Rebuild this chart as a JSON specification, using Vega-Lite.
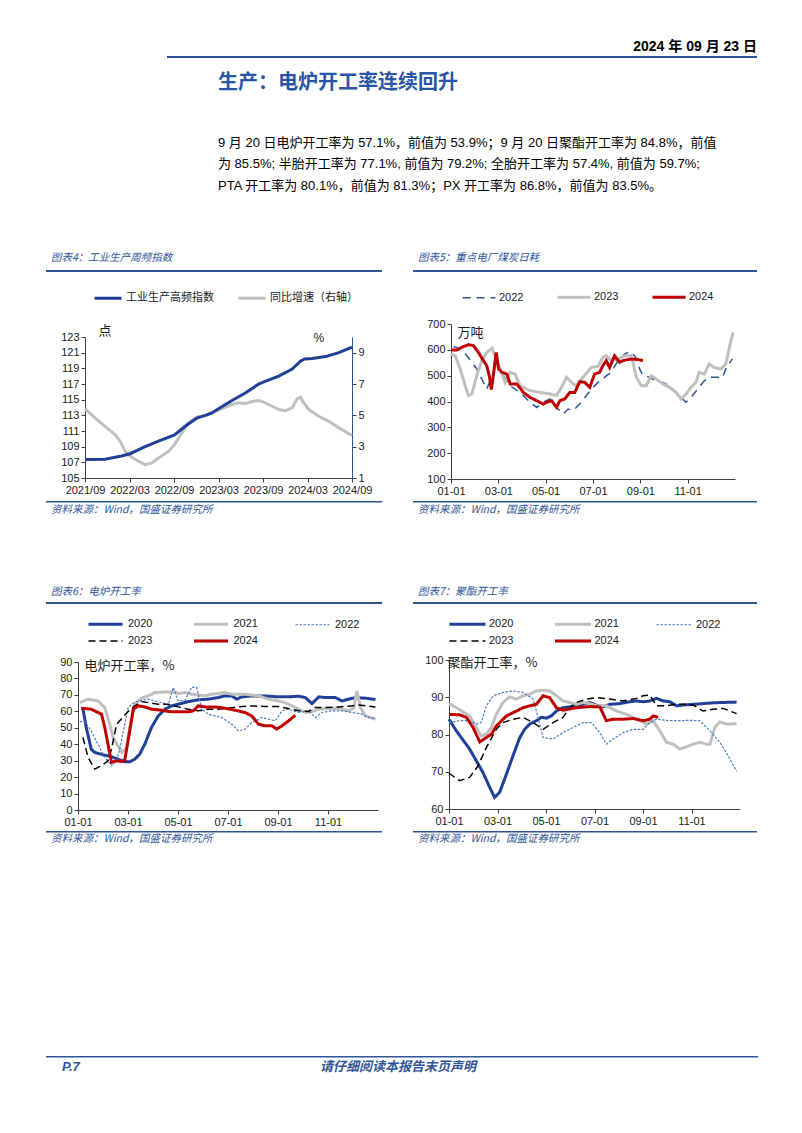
{
"$schema": "https://vega.github.io/schema/vega-lite/v6.json",
"padding": {"left": 46, "top": 40, "right": 0, "bottom": 0},
"background": "white",
"spacing": 0,
"resolve": {"scale": {"color": "independent", "strokeDash": "independent"}, "legend": {"color": "independent", "strokeDash": "independent"}},
"config": {
 "view": {"stroke": null},
 "font": "Liberation Sans",
 "axis": {"labelFont": "Liberation Sans", "labelFontSize": 11, "labelColor": "#1a1a1a", "domainColor": "#404040", "tickColor": "#404040", "grid": false, "tickSize": 4, "labelPadding": 2, "titleFont": "Noto Sans CJK SC", "titleFontWeight": "normal", "titleColor": "#1a1a1a", "titleFontSize": 13, "labelFlush": false, "labelOverlap": false},
 "legend": {"labelFont": "Liberation Sans", "labelFontSize": 11, "labelColor": "#1a1a1a"},
 "line": {"strokeCap": "butt"}
},
"datasets": {
 "c4i": [
  {"m":0,"v":107.35},{"m":2.7,"v":107.4},{"m":4.95,"v":107.8},{"m":6.08,"v":108.1},{"m":8.11,"v":109.0},{"m":9.91,"v":109.7},{"m":12.07,"v":110.5},{"m":13.51,"v":111.6},{"m":15.09,"v":112.65},{"m":16.22,"v":113.0},{"m":17.12,"v":113.3},{"m":18.11,"v":113.9},{"m":19.82,"v":114.9},{"m":21.62,"v":115.85},{"m":23.42,"v":117.0},{"m":24.19,"v":117.3},{"m":26.13,"v":118.0},{"m":27.93,"v":118.9},{"m":29.05,"v":119.9},{"m":29.6,"v":120.2},{"m":30.63,"v":120.25},{"m":32.43,"v":120.5},{"m":34.23,"v":121.0},{"m":36,"v":121.7}
 ],
 "c4g": [
  {"m":0,"v":5.43},{"m":1.35,"v":4.84},{"m":2.7,"v":4.3},{"m":4.05,"v":3.77},{"m":4.73,"v":3.35},{"m":5.41,"v":2.7},{"m":6.08,"v":2.39},{"m":7.21,"v":2.07},{"m":8.11,"v":1.85},{"m":9.01,"v":1.96},{"m":9.91,"v":2.28},{"m":11.26,"v":2.7},{"m":12.07,"v":3.13},{"m":13.06,"v":3.88},{"m":13.96,"v":4.52},{"m":15.09,"v":4.9},{"m":16.22,"v":4.99},{"m":17.12,"v":5.16},{"m":18.11,"v":5.37},{"m":19.82,"v":5.69},{"m":20.72,"v":5.8},{"m":21.62,"v":5.75},{"m":22.52,"v":5.88},{"m":23.42,"v":5.95},{"m":24.32,"v":5.8},{"m":25.23,"v":5.58},{"m":26.13,"v":5.37},{"m":27.03,"v":5.3},{"m":27.93,"v":5.48},{"m":28.6,"v":6.05},{"m":29.05,"v":6.16},{"m":29.5,"v":5.8},{"m":30.18,"v":5.37},{"m":31.53,"v":4.94},{"m":32.88,"v":4.62},{"m":34.23,"v":4.2},{"m":36,"v":3.71}
 ],
 "c5": [
  {"s":"2022","m":0.11,"v":612},{"s":"2022","m":0.39,"v":605},{"s":"2022","m":0.67,"v":577},{"s":"2022","m":1.09,"v":526},{"s":"2022","m":1.30,"v":487},{"s":"2022","m":1.51,"v":448},{"s":"2022","m":1.80,"v":513},{"s":"2022","m":1.91,"v":550},{"s":"2022","m":2.22,"v":500},{"s":"2022","m":2.50,"v":461},{"s":"2022","m":2.92,"v":435},{"s":"2022","m":3.34,"v":397},{"s":"2022","m":3.62,"v":377},{"s":"2022","m":3.90,"v":397},{"s":"2022","m":4.18,"v":410},{"s":"2022","m":4.46,"v":377},{"s":"2022","m":4.74,"v":352},{"s":"2022","m":4.95,"v":371},{"s":"2022","m":5.16,"v":365},{"s":"2022","m":5.44,"v":390},{"s":"2022","m":5.72,"v":423},{"s":"2022","m":5.93,"v":448},{"s":"2022","m":6.21,"v":474},{"s":"2022","m":6.49,"v":494},{"s":"2022","m":6.77,"v":513},{"s":"2022","m":7.05,"v":558},{"s":"2022","m":7.34,"v":584},{"s":"2022","m":7.55,"v":593},{"s":"2022","m":7.76,"v":577},{"s":"2022","m":7.97,"v":526},{"s":"2022","m":8.11,"v":500},{"s":"2022","m":8.39,"v":494},{"s":"2022","m":8.67,"v":480},{"s":"2022","m":8.95,"v":474},{"s":"2022","m":9.23,"v":461},{"s":"2022","m":9.51,"v":435},{"s":"2022","m":9.79,"v":410},{"s":"2022","m":9.93,"v":397},{"s":"2022","m":10.14,"v":416},{"s":"2022","m":10.42,"v":448},{"s":"2022","m":10.70,"v":480},{"s":"2022","m":10.91,"v":494},{"s":"2022","m":11.19,"v":494},{"s":"2022","m":11.47,"v":491},{"s":"2022","m":11.61,"v":526},{"s":"2022","m":11.89,"v":565},
  {"s":"2023","m":0,"v":584},{"s":"2023","m":0.18,"v":577},{"s":"2023","m":0.39,"v":526},{"s":"2023","m":0.60,"v":461},{"s":"2023","m":0.74,"v":423},{"s":"2023","m":0.88,"v":429},{"s":"2023","m":1.09,"v":500},{"s":"2023","m":1.30,"v":558},{"s":"2023","m":1.51,"v":590},{"s":"2023","m":1.73,"v":606},{"s":"2023","m":1.91,"v":565},{"s":"2023","m":2.08,"v":526},{"s":"2023","m":2.29,"v":474},{"s":"2023","m":2.50,"v":513},{"s":"2023","m":2.71,"v":506},{"s":"2023","m":2.92,"v":461},{"s":"2023","m":3.34,"v":442},{"s":"2023","m":3.76,"v":435},{"s":"2023","m":4.18,"v":429},{"s":"2023","m":4.46,"v":423},{"s":"2023","m":4.67,"v":455},{"s":"2023","m":4.88,"v":494},{"s":"2023","m":5.09,"v":474},{"s":"2023","m":5.30,"v":461},{"s":"2023","m":5.58,"v":494},{"s":"2023","m":5.93,"v":532},{"s":"2023","m":6.21,"v":536},{"s":"2023","m":6.42,"v":571},{"s":"2023","m":6.56,"v":577},{"s":"2023","m":6.77,"v":558},{"s":"2023","m":7.05,"v":564},{"s":"2023","m":7.34,"v":577},{"s":"2023","m":7.62,"v":577},{"s":"2023","m":7.83,"v":494},{"s":"2023","m":8.04,"v":461},{"s":"2023","m":8.25,"v":461},{"s":"2023","m":8.46,"v":500},{"s":"2023","m":8.67,"v":487},{"s":"2023","m":8.95,"v":468},{"s":"2023","m":9.23,"v":455},{"s":"2023","m":9.51,"v":435},{"s":"2023","m":9.72,"v":410},{"s":"2023","m":9.93,"v":429},{"s":"2023","m":10.14,"v":455},{"s":"2023","m":10.35,"v":474},{"s":"2023","m":10.49,"v":513},{"s":"2023","m":10.70,"v":506},{"s":"2023","m":10.91,"v":545},{"s":"2023","m":11.12,"v":532},{"s":"2023","m":11.40,"v":526},{"s":"2023","m":11.61,"v":545},{"s":"2023","m":11.78,"v":616},{"s":"2023","m":11.92,"v":668},
  {"s":"2024","m":0,"v":599},{"s":"2024","m":0.25,"v":599},{"s":"2024","m":0.46,"v":610},{"s":"2024","m":0.74,"v":620},{"s":"2024","m":0.95,"v":616},{"s":"2024","m":1.16,"v":590},{"s":"2024","m":1.37,"v":558},{"s":"2024","m":1.51,"v":539},{"s":"2024","m":1.63,"v":494},{"s":"2024","m":1.70,"v":446},{"s":"2024","m":1.77,"v":487},{"s":"2024","m":1.91,"v":590},{"s":"2024","m":2.01,"v":526},{"s":"2024","m":2.15,"v":513},{"s":"2024","m":2.36,"v":506},{"s":"2024","m":2.50,"v":468},{"s":"2024","m":2.78,"v":468},{"s":"2024","m":3.06,"v":435},{"s":"2024","m":3.34,"v":416},{"s":"2024","m":3.62,"v":403},{"s":"2024","m":3.90,"v":390},{"s":"2024","m":4.04,"v":397},{"s":"2024","m":4.25,"v":403},{"s":"2024","m":4.46,"v":377},{"s":"2024","m":4.60,"v":403},{"s":"2024","m":4.81,"v":410},{"s":"2024","m":5.02,"v":435},{"s":"2024","m":5.23,"v":435},{"s":"2024","m":5.44,"v":477},{"s":"2024","m":5.65,"v":474},{"s":"2024","m":5.86,"v":455},{"s":"2024","m":6.07,"v":506},{"s":"2024","m":6.28,"v":513},{"s":"2024","m":6.42,"v":539},{"s":"2024","m":6.56,"v":558},{"s":"2024","m":6.70,"v":532},{"s":"2024","m":6.91,"v":577},{"s":"2024","m":7.12,"v":552},{"s":"2024","m":7.27,"v":558},{"s":"2024","m":7.55,"v":564},{"s":"2024","m":7.83,"v":564},{"s":"2024","m":8.11,"v":558}
 ],
 "c6": [
  {"s":"2020","m":0.20,"v":61.3},{"s":"2020","m":0.33,"v":50.2},{"s":"2020","m":0.53,"v":37.0},{"s":"2020","m":0.67,"v":35},{"s":"2020","m":1.00,"v":33.6},{"s":"2020","m":1.34,"v":32.4},{"s":"2020","m":1.60,"v":30.9},{"s":"2020","m":1.87,"v":29.3},{"s":"2020","m":2.07,"v":29.3},{"s":"2020","m":2.27,"v":30.9},{"s":"2020","m":2.47,"v":34.0},{"s":"2020","m":2.67,"v":40},{"s":"2020","m":2.94,"v":50.2},{"s":"2020","m":3.21,"v":57.2},{"s":"2020","m":3.48,"v":61.3},{"s":"2020","m":3.74,"v":63.3},{"s":"2020","m":4.01,"v":64.3},{"s":"2020","m":4.41,"v":65.9},{"s":"2020","m":4.81,"v":67.0},{"s":"2020","m":5.21,"v":67.4},{"s":"2020","m":5.61,"v":68.4},{"s":"2020","m":5.88,"v":69.4},{"s":"2020","m":6.15,"v":69.4},{"s":"2020","m":6.35,"v":67.4},{"s":"2020","m":6.55,"v":68.8},{"s":"2020","m":6.95,"v":69.4},{"s":"2020","m":7.49,"v":69.4},{"s":"2020","m":8.02,"v":68.8},{"s":"2020","m":8.42,"v":68.8},{"s":"2020","m":8.82,"v":69.2},{"s":"2020","m":9.09,"v":68.4},{"s":"2020","m":9.36,"v":64.7},{"s":"2020","m":9.63,"v":68.8},{"s":"2020","m":9.89,"v":68.4},{"s":"2020","m":10.29,"v":68.4},{"s":"2020","m":10.56,"v":66.3},{"s":"2020","m":10.83,"v":67.4},{"s":"2020","m":11.10,"v":68.4},{"s":"2020","m":11.50,"v":68.0},{"s":"2020","m":11.90,"v":67.2},
  {"s":"2021","m":0.07,"v":65.3},{"s":"2021","m":0.40,"v":67.4},{"s":"2021","m":0.80,"v":66.3},{"s":"2021","m":1.07,"v":62.3},{"s":"2021","m":1.27,"v":52.2},{"s":"2021","m":1.40,"v":44.1},{"s":"2021","m":1.60,"v":39},{"s":"2021","m":1.76,"v":35},{"s":"2021","m":1.94,"v":38},{"s":"2021","m":2.07,"v":50.2},{"s":"2021","m":2.27,"v":64.3},{"s":"2021","m":2.54,"v":68},{"s":"2021","m":2.81,"v":69.4},{"s":"2021","m":3.07,"v":71.4},{"s":"2021","m":3.48,"v":71.8},{"s":"2021","m":3.88,"v":71.8},{"s":"2021","m":4.01,"v":70.8},{"s":"2021","m":4.28,"v":71.4},{"s":"2021","m":4.55,"v":70.4},{"s":"2021","m":4.81,"v":70},{"s":"2021","m":5.08,"v":69.4},{"s":"2021","m":5.35,"v":70.4},{"s":"2021","m":5.88,"v":71.4},{"s":"2021","m":6.15,"v":70.4},{"s":"2021","m":6.68,"v":70.4},{"s":"2021","m":7.22,"v":69.4},{"s":"2021","m":7.62,"v":67.4},{"s":"2021","m":8.02,"v":66.3},{"s":"2021","m":8.29,"v":65.3},{"s":"2021","m":8.56,"v":63.3},{"s":"2021","m":8.82,"v":61.3},{"s":"2021","m":9.09,"v":59.3},{"s":"2021","m":9.36,"v":59.9},{"s":"2021","m":9.63,"v":61.3},{"s":"2021","m":10.03,"v":61.7},{"s":"2021","m":10.43,"v":61.7},{"s":"2021","m":10.83,"v":60.3},{"s":"2021","m":11.03,"v":62.3},{"s":"2021","m":11.16,"v":72.4},{"s":"2021","m":11.30,"v":62.3},{"s":"2021","m":11.50,"v":57.2},{"s":"2021","m":11.90,"v":55.2},
  {"s":"2022","m":0.07,"v":53.8},{"s":"2022","m":0.27,"v":53.8},{"s":"2022","m":0.53,"v":48.1},{"s":"2022","m":0.80,"v":40},{"s":"2022","m":1.07,"v":32},{"s":"2022","m":1.34,"v":26.9},{"s":"2022","m":1.54,"v":29.9},{"s":"2022","m":1.67,"v":37},{"s":"2022","m":1.87,"v":52.2},{"s":"2022","m":2.01,"v":62.3},{"s":"2022","m":2.27,"v":65.7},{"s":"2022","m":2.54,"v":66.7},{"s":"2022","m":2.81,"v":67.4},{"s":"2022","m":3.07,"v":66.3},{"s":"2022","m":3.34,"v":65.3},{"s":"2022","m":3.61,"v":63.9},{"s":"2022","m":3.81,"v":74.4},{"s":"2022","m":4.01,"v":66.3},{"s":"2022","m":4.28,"v":66.7},{"s":"2022","m":4.55,"v":74.8},{"s":"2022","m":4.75,"v":74.4},{"s":"2022","m":4.95,"v":61.3},{"s":"2022","m":5.21,"v":58.3},{"s":"2022","m":5.48,"v":57.2},{"s":"2022","m":5.75,"v":56.2},{"s":"2022","m":6.15,"v":52.2},{"s":"2022","m":6.42,"v":48.1},{"s":"2022","m":6.68,"v":49.2},{"s":"2022","m":6.95,"v":53.2},{"s":"2022","m":7.35,"v":56.2},{"s":"2022","m":7.62,"v":55.2},{"s":"2022","m":7.89,"v":54.2},{"s":"2022","m":8.16,"v":60.3},{"s":"2022","m":8.42,"v":61.3},{"s":"2022","m":8.82,"v":59.3},{"s":"2022","m":9.22,"v":60.3},{"s":"2022","m":9.49,"v":56.2},{"s":"2022","m":9.76,"v":59.3},{"s":"2022","m":10.16,"v":60.3},{"s":"2022","m":10.56,"v":60.3},{"s":"2022","m":10.96,"v":59.3},{"s":"2022","m":11.36,"v":58.3},{"s":"2022","m":11.63,"v":56.2},{"s":"2022","m":11.90,"v":55.8},
  {"s":"2023","m":0.20,"v":44.1},{"s":"2023","m":0.40,"v":32},{"s":"2023","m":0.67,"v":24.9},{"s":"2023","m":0.94,"v":26.9},{"s":"2023","m":1.20,"v":29.9},{"s":"2023","m":1.34,"v":37},{"s":"2023","m":1.54,"v":52},{"s":"2023","m":1.74,"v":55.5},{"s":"2023","m":2.01,"v":60},{"s":"2023","m":2.27,"v":63.3},{"s":"2023","m":2.54,"v":65.9},{"s":"2023","m":2.81,"v":65.3},{"s":"2023","m":3.21,"v":64.3},{"s":"2023","m":3.61,"v":64.3},{"s":"2023","m":4.01,"v":62.7},{"s":"2023","m":4.41,"v":61.3},{"s":"2023","m":4.81,"v":60.3},{"s":"2023","m":5.21,"v":61.3},{"s":"2023","m":5.61,"v":61.3},{"s":"2023","m":6.02,"v":61.9},{"s":"2023","m":6.42,"v":62.7},{"s":"2023","m":6.95,"v":63.3},{"s":"2023","m":7.49,"v":62.9},{"s":"2023","m":8.02,"v":62.9},{"s":"2023","m":8.56,"v":61.3},{"s":"2023","m":8.82,"v":60.3},{"s":"2023","m":9.22,"v":59.9},{"s":"2023","m":9.49,"v":62.3},{"s":"2023","m":9.89,"v":62.3},{"s":"2023","m":10.43,"v":62.7},{"s":"2023","m":10.83,"v":63.1},{"s":"2023","m":11.23,"v":63.9},{"s":"2023","m":11.63,"v":63.1},{"s":"2023","m":11.90,"v":62.7},
  {"s":"2024","m":0.13,"v":61.9},{"s":"2024","m":0.53,"v":61.3},{"s":"2024","m":0.80,"v":59.3},{"s":"2024","m":0.94,"v":58.3},{"s":"2024","m":1.07,"v":50.2},{"s":"2024","m":1.20,"v":40},{"s":"2024","m":1.34,"v":28.9},{"s":"2024","m":1.54,"v":29.9},{"s":"2024","m":1.74,"v":29.5},{"s":"2024","m":1.87,"v":30.3},{"s":"2024","m":2.07,"v":48.1},{"s":"2024","m":2.21,"v":61.3},{"s":"2024","m":2.41,"v":63.3},{"s":"2024","m":2.67,"v":62.7},{"s":"2024","m":2.94,"v":61.3},{"s":"2024","m":3.34,"v":60.7},{"s":"2024","m":3.61,"v":59.9},{"s":"2024","m":4.01,"v":59.7},{"s":"2024","m":4.41,"v":59.7},{"s":"2024","m":4.61,"v":60.3},{"s":"2024","m":4.81,"v":63.3},{"s":"2024","m":5.08,"v":62.7},{"s":"2024","m":5.48,"v":62.7},{"s":"2024","m":5.88,"v":61.9},{"s":"2024","m":6.28,"v":60.7},{"s":"2024","m":6.68,"v":59.3},{"s":"2024","m":6.95,"v":57.2},{"s":"2024","m":7.22,"v":52.2},{"s":"2024","m":7.49,"v":51.2},{"s":"2024","m":7.75,"v":51.2},{"s":"2024","m":7.95,"v":49.2},{"s":"2024","m":8.16,"v":51.2},{"s":"2024","m":8.42,"v":54.2},{"s":"2024","m":8.69,"v":57.6}
 ],
 "c7": [
  {"s":"2020","m":0,"v":84.1},{"s":"2020","m":0.30,"v":81},{"s":"2020","m":0.58,"v":78.5},{"s":"2020","m":0.85,"v":76.1},{"s":"2020","m":1.13,"v":72.9},{"s":"2020","m":1.40,"v":69.8},{"s":"2020","m":1.68,"v":65.8},{"s":"2020","m":1.88,"v":63.1},{"s":"2020","m":2.09,"v":64.5},{"s":"2020","m":2.37,"v":69.4},{"s":"2020","m":2.64,"v":74.3},{"s":"2020","m":2.92,"v":79.2},{"s":"2020","m":3.12,"v":81.4},{"s":"2020","m":3.33,"v":82.8},{"s":"2020","m":3.60,"v":83.7},{"s":"2020","m":3.81,"v":84.6},{"s":"2020","m":4.02,"v":84.4},{"s":"2020","m":4.22,"v":85},{"s":"2020","m":4.43,"v":86.3},{"s":"2020","m":4.70,"v":87.2},{"s":"2020","m":4.98,"v":87.4},{"s":"2020","m":5.25,"v":87.7},{"s":"2020","m":5.53,"v":88.1},{"s":"2020","m":5.80,"v":88.6},{"s":"2020","m":6.08,"v":87.9},{"s":"2020","m":6.35,"v":87.4},{"s":"2020","m":6.63,"v":88.1},{"s":"2020","m":7.04,"v":88.3},{"s":"2020","m":7.46,"v":88.8},{"s":"2020","m":7.73,"v":89},{"s":"2020","m":8.01,"v":88.8},{"s":"2020","m":8.28,"v":89},{"s":"2020","m":8.56,"v":89.7},{"s":"2020","m":8.83,"v":89},{"s":"2020","m":9.11,"v":88.8},{"s":"2020","m":9.38,"v":87.7},{"s":"2020","m":9.66,"v":87.9},{"s":"2020","m":10.07,"v":88.1},{"s":"2020","m":10.48,"v":88.3},{"s":"2020","m":10.89,"v":88.5},{"s":"2020","m":11.31,"v":88.6},{"s":"2020","m":11.86,"v":88.7},
  {"s":"2021","m":0,"v":88.3},{"s":"2021","m":0.30,"v":87.2},{"s":"2021","m":0.58,"v":86.1},{"s":"2021","m":0.85,"v":85},{"s":"2021","m":1.13,"v":81.9},{"s":"2021","m":1.33,"v":79.6},{"s":"2021","m":1.54,"v":80.1},{"s":"2021","m":1.75,"v":81.9},{"s":"2021","m":1.95,"v":85.4},{"s":"2021","m":2.23,"v":88.6},{"s":"2021","m":2.50,"v":90.1},{"s":"2021","m":2.78,"v":89.5},{"s":"2021","m":3.05,"v":90.4},{"s":"2021","m":3.33,"v":90.8},{"s":"2021","m":3.60,"v":91.7},{"s":"2021","m":3.88,"v":91.9},{"s":"2021","m":4.15,"v":91.7},{"s":"2021","m":4.43,"v":90.4},{"s":"2021","m":4.70,"v":89},{"s":"2021","m":4.98,"v":88.6},{"s":"2021","m":5.25,"v":88.1},{"s":"2021","m":5.53,"v":88.6},{"s":"2021","m":5.80,"v":88.3},{"s":"2021","m":6.08,"v":87.7},{"s":"2021","m":6.49,"v":87.7},{"s":"2021","m":6.91,"v":86.3},{"s":"2021","m":7.32,"v":85.4},{"s":"2021","m":7.59,"v":84.6},{"s":"2021","m":7.87,"v":83.7},{"s":"2021","m":8.14,"v":82.8},{"s":"2021","m":8.42,"v":83.7},{"s":"2021","m":8.69,"v":81},{"s":"2021","m":8.97,"v":77.9},{"s":"2021","m":9.24,"v":77.4},{"s":"2021","m":9.52,"v":76.1},{"s":"2021","m":9.79,"v":76.7},{"s":"2021","m":10.07,"v":77.4},{"s":"2021","m":10.34,"v":77.9},{"s":"2021","m":10.62,"v":77.4},{"s":"2021","m":10.76,"v":77.4},{"s":"2021","m":10.96,"v":81.9},{"s":"2021","m":11.17,"v":83.4},{"s":"2021","m":11.44,"v":82.8},{"s":"2021","m":11.86,"v":82.9},
  {"s":"2022","m":0,"v":83.2},{"s":"2022","m":0.44,"v":83.7},{"s":"2022","m":0.85,"v":83.7},{"s":"2022","m":1.13,"v":82.8},{"s":"2022","m":1.33,"v":83.2},{"s":"2022","m":1.54,"v":87.7},{"s":"2022","m":1.82,"v":90.4},{"s":"2022","m":2.23,"v":91.3},{"s":"2022","m":2.64,"v":91.7},{"s":"2022","m":3.05,"v":91.3},{"s":"2022","m":3.47,"v":89.5},{"s":"2022","m":3.67,"v":84.6},{"s":"2022","m":3.88,"v":79.2},{"s":"2022","m":4.29,"v":78.8},{"s":"2022","m":4.70,"v":80.5},{"s":"2022","m":5.12,"v":81.9},{"s":"2022","m":5.53,"v":83.2},{"s":"2022","m":5.87,"v":83.2},{"s":"2022","m":6.22,"v":80.5},{"s":"2022","m":6.49,"v":77.4},{"s":"2022","m":6.77,"v":78.8},{"s":"2022","m":7.18,"v":80.5},{"s":"2022","m":7.59,"v":81.4},{"s":"2022","m":8.01,"v":81.4},{"s":"2022","m":8.28,"v":83.2},{"s":"2022","m":8.56,"v":84.1},{"s":"2022","m":8.97,"v":83.8},{"s":"2022","m":9.38,"v":83.7},{"s":"2022","m":9.93,"v":83.8},{"s":"2022","m":10.34,"v":83.7},{"s":"2022","m":10.76,"v":81},{"s":"2022","m":11.17,"v":77.9},{"s":"2022","m":11.51,"v":74.3},{"s":"2022","m":11.86,"v":70.1},
  {"s":"2023","m":0,"v":69.6},{"s":"2023","m":0.44,"v":67.6},{"s":"2023","m":0.85,"v":68.5},{"s":"2023","m":1.20,"v":71.6},{"s":"2023","m":1.54,"v":76.5},{"s":"2023","m":1.95,"v":81.4},{"s":"2023","m":2.23,"v":83.2},{"s":"2023","m":2.64,"v":84.1},{"s":"2023","m":3.05,"v":84.6},{"s":"2023","m":3.47,"v":83.2},{"s":"2023","m":3.88,"v":81.4},{"s":"2023","m":4.29,"v":83.2},{"s":"2023","m":4.70,"v":84.6},{"s":"2023","m":4.98,"v":87.2},{"s":"2023","m":5.25,"v":88.6},{"s":"2023","m":5.67,"v":89.5},{"s":"2023","m":6.08,"v":89.9},{"s":"2023","m":6.63,"v":89.5},{"s":"2023","m":7.18,"v":89},{"s":"2023","m":7.73,"v":89.7},{"s":"2023","m":8.01,"v":90.4},{"s":"2023","m":8.28,"v":90.6},{"s":"2023","m":8.56,"v":87.7},{"s":"2023","m":8.97,"v":87.7},{"s":"2023","m":9.38,"v":88.1},{"s":"2023","m":9.79,"v":88.1},{"s":"2023","m":10.07,"v":87.9},{"s":"2023","m":10.48,"v":86.3},{"s":"2023","m":10.89,"v":86.8},{"s":"2023","m":11.31,"v":87},{"s":"2023","m":11.86,"v":85.6},
  {"s":"2024","m":0,"v":85.4},{"s":"2024","m":0.44,"v":85.3},{"s":"2024","m":0.72,"v":84.6},{"s":"2024","m":0.99,"v":81.9},{"s":"2024","m":1.27,"v":78},{"s":"2024","m":1.54,"v":79.2},{"s":"2024","m":1.75,"v":80.1},{"s":"2024","m":1.95,"v":82.3},{"s":"2024","m":2.37,"v":85},{"s":"2024","m":2.78,"v":86.3},{"s":"2024","m":3.05,"v":87.2},{"s":"2024","m":3.33,"v":87.7},{"s":"2024","m":3.60,"v":88.1},{"s":"2024","m":3.88,"v":90.4},{"s":"2024","m":4.15,"v":89.9},{"s":"2024","m":4.43,"v":87.2},{"s":"2024","m":4.70,"v":86.5},{"s":"2024","m":5.25,"v":87.2},{"s":"2024","m":5.80,"v":87.5},{"s":"2024","m":6.22,"v":87.4},{"s":"2024","m":6.49,"v":83.7},{"s":"2024","m":6.77,"v":84.1},{"s":"2024","m":7.18,"v":84.1},{"s":"2024","m":7.59,"v":84.3},{"s":"2024","m":8.01,"v":83.7},{"s":"2024","m":8.28,"v":84.1},{"s":"2024","m":8.42,"v":85},{"s":"2024","m":8.62,"v":84.6}
 ]
},
"vconcat": [
 {"hconcat": [
   {"width": 121, "height": 2, "data": {"values": []}, "mark": "point"},
   {"width": 590, "height": 2, "data": {"values": []}, "mark": "point", "view": {"fill": "#2f5597", "stroke": null},
    "title": {"text": "2024 年 09 月 23 日", "anchor": "end", "offset": 2, "font": "Liberation Sans Narrow, Liberation Sans, Noto Sans CJK SC", "fontSize": 14, "fontWeight": "bold", "fontStyle": "normal", "color": "#000000"}}
  ], "spacing": 0},
 {"width": 1, "height": 15, "data": {"values": []}, "mark": "point"},
 {"width": 711, "height": 60, "data": {"values": []}, "mark": "point",
  "title": {"text": "生产：电炉开工率连续回升", "subtitle": ["9 月 20 日电炉开工率为 57.1%，前值为 53.9%；9 月 20 日聚酯开工率为 84.8%，前值", "为 85.5%; 半胎开工率为 77.1%, 前值为 79.2%; 全胎开工率为 57.4%, 前值为 59.7%;", "PTA 开工率为 80.1%，前值为 81.3%；PX 开工率为 86.8%，前值为 83.5%。"],
   "anchor": "start", "dx": 172, "offset": 0.25, "font": "Noto Sans CJK SC", "fontSize": 20, "fontWeight": "bold", "fontStyle": "normal", "color": "#2a55a5",
   "subtitleFont": "Liberation Sans, Noto Sans CJK SC", "subtitleFontSize": 13, "subtitleColor": "#000000", "subtitleLineHeight": 21.5, "subtitlePadding": 43.5, "subtitleFontStyle": "normal", "subtitleFontWeight": "normal"}},
 {"hconcat": [
   {"vconcat": [
     {"width": 336, "height": 2, "data": {"values": []}, "mark": "point", "view": {"fill": "#2f5597", "stroke": null},
      "title": {"text": "图表4：工业生产周频指数", "anchor": "start", "dx": 5, "offset": 6.25, "font": "Noto Sans CJK SC", "fontSize": 10.5, "fontStyle": "italic", "fontWeight": "normal", "color": "#2f5597"}},
     {"width": 1, "height": 19, "data": {"values": []}, "mark": "point"},
     {"width": 306, "height": 141,
      "layer": [
       {"data": {"name": "c4g"}, "mark": {"type": "line", "strokeWidth": 3},
        "encoding": {
         "x": {"field": "m", "type": "quantitative", "scale": {"domain": [0, 36], "range": [39, 306], "nice": false, "zero": false}, "axis": {"values": [0, 6, 12, 18, 24, 30, 36], "labelExpr": "['2021/09','2022/03','2022/09','2023/03','2023/09','2024/03','2024/09'][round(datum.value/6)]", "title": null}},
         "y": {"field": "v", "type": "quantitative", "scale": {"domain": [1, 10], "nice": false, "zero": false}, "axis": {"orient": "right", "values": [1, 3, 5, 7, 9], "domainColor": "#2f5597", "title": "%", "titleFont": "Liberation Sans", "titleFontSize": 12, "titleAngle": 0, "titleX": -39, "titleY": 4, "titleAlign": "left", "titleBaseline": "alphabetic"}},
         "color": {"datum": "同比增速（右轴）", "type": "nominal", "scale": {"domain": ["工业生产高频指数", "同比增速（右轴）"], "range": ["#1f3f98", "#bfbfbf"]},
          "legend": {"orient": "none", "legendX": 64, "legendY": -45.5, "direction": "horizontal", "title": null, "symbolType": "M-4.4,0H1", "symbolSize": 100, "symbolStrokeWidth": 3, "labelOffset": 3, "columnPadding": 18, "labelFont": "Noto Sans CJK SC", "labelFontSize": 11}}
        }},
       {"data": {"name": "c4i"}, "mark": {"type": "line", "strokeWidth": 3},
        "encoding": {
         "x": {"field": "m", "type": "quantitative"},
         "y": {"field": "v", "type": "quantitative", "scale": {"domain": [105, 123], "nice": false, "zero": false}, "axis": {"orient": "left", "offset": -39, "values": [105, 107, 109, 111, 113, 115, 117, 119, 121, 123], "title": "点", "titleAngle": 0, "titleX": 13, "titleY": -3, "titleAlign": "left", "titleBaseline": "alphabetic"}},
         "color": {"datum": "工业生产高频指数", "type": "nominal"}
        }}
      ],
      "resolve": {"scale": {"y": "independent"}}},
     {"width": 1, "height": 5.25, "data": {"values": []}, "mark": "point"},
     {"width": 336, "height": 1.5, "data": {"values": []}, "mark": "point", "view": {"fill": "#2f5597", "stroke": null},
      "title": {"text": "资料来源：Wind，国盛证券研究所", "orient": "bottom", "anchor": "start", "dx": 5, "offset": 2, "font": "Noto Sans CJK SC", "fontSize": 10.5, "fontStyle": "italic", "fontWeight": "normal", "color": "#2f5597"}}
    ], "spacing": 0, "resolve": {"scale": {"color": "independent"}, "legend": {"color": "independent"}}},
   {"vconcat": [
     {"width": 344, "height": 2, "data": {"values": []}, "mark": "point", "view": {"fill": "#2f5597", "stroke": null},
      "title": {"text": "图表5：重点电厂煤炭日耗", "anchor": "start", "dx": 5, "offset": 6.25, "font": "Noto Sans CJK SC", "fontSize": 10.5, "fontStyle": "italic", "fontWeight": "normal", "color": "#2f5597"}},
     {"width": 1, "height": 19, "data": {"values": []}, "mark": "point"},
     {"width": 322, "height": 155, "data": {"name": "c5"}, "mark": {"type": "line"},
      "encoding": {
       "x": {"field": "m", "type": "quantitative", "scale": {"domain": [0, 12], "range": [38, 322], "nice": false, "zero": false}, "axis": {"values": [0, 2, 4, 6, 8, 10], "labelExpr": "['01-01','03-01','05-01','07-01','09-01','11-01'][round(datum.value/2)]", "title": null}},
       "y": {"field": "v", "type": "quantitative", "scale": {"domain": [100, 700], "nice": false, "zero": false}, "axis": {"offset": -38, "values": [100, 200, 300, 400, 500, 600, 700], "title": "万吨", "titleAngle": 0, "titleX": 6, "titleY": 12, "titleAlign": "left", "titleBaseline": "alphabetic"}},
       "color": {"field": "s", "type": "nominal", "scale": {"domain": ["2022", "2023", "2024"], "range": ["#2f5597", "#bfbfbf", "#c00000"]},
        "legend": {"orient": "none", "legendX": 72, "legendY": -32.5, "direction": "horizontal", "title": null, "symbolType": "M-5.6,0H1", "symbolSize": 100, "labelOffset": 3, "columnPadding": 27, "encode": {"symbols": {"update": {"strokeWidth": {"signal": "datum.value === '2022' ? 1.5 : 3"}}}}}},
       "strokeDash": {"field": "s", "type": "nominal", "scale": {"domain": ["2022", "2023", "2024"], "range": [[8, 6], [1, 0], [1, 0]]},
        "legend": {"orient": "none", "legendX": 72, "legendY": -32.5, "direction": "horizontal", "title": null, "symbolType": "M-5.6,0H1", "symbolSize": 100, "labelOffset": 3, "columnPadding": 27, "encode": {"symbols": {"update": {"strokeWidth": {"signal": "datum.value === '2022' ? 1.5 : 3"}}}}}},
       "strokeWidth": {"condition": {"test": "datum.s === '2022'", "value": 1.5}, "value": 3}
      }},
     {"width": 1, "height": 4.25, "data": {"values": []}, "mark": "point"},
     {"width": 344, "height": 1.5, "data": {"values": []}, "mark": "point", "view": {"fill": "#2f5597", "stroke": null},
      "title": {"text": "资料来源：Wind，国盛证券研究所", "orient": "bottom", "anchor": "start", "dx": 5, "offset": 2, "font": "Noto Sans CJK SC", "fontSize": 10.5, "fontStyle": "italic", "fontWeight": "normal", "color": "#2f5597"}}
    ], "spacing": 0, "resolve": {"scale": {"color": "independent", "strokeDash": "independent"}, "legend": {"color": "independent", "strokeDash": "independent"}}}
  ], "spacing": 31, "resolve": {"scale": {"color": "independent", "strokeDash": "independent"}, "legend": {"color": "independent", "strokeDash": "independent"}}},
 {"width": 1, "height": 70.5, "data": {"values": []}, "mark": "point"},
 {"hconcat": [
   {"vconcat": [
     {"width": 336, "height": 2, "data": {"values": []}, "mark": "point", "view": {"fill": "#2f5597", "stroke": null},
      "title": {"text": "图表6：电炉开工率", "anchor": "start", "dx": 5, "offset": 4.75, "font": "Noto Sans CJK SC", "fontSize": 10.5, "fontStyle": "italic", "fontWeight": "normal", "color": "#2f5597"}},
     {"width": 1, "height": 13.5, "data": {"values": []}, "mark": "point"},
     {"width": 332, "height": 148, "data": {"name": "c6"}, "mark": {"type": "line"},
      "encoding": {
       "x": {"field": "m", "type": "quantitative", "scale": {"domain": [0, 12], "range": [32, 332], "nice": false, "zero": false}, "axis": {"values": [0, 2, 4, 6, 8, 10], "labelExpr": "['01-01','03-01','05-01','07-01','09-01','11-01'][round(datum.value/2)]", "title": null}},
       "y": {"field": "v", "type": "quantitative", "scale": {"domain": [0, 90], "nice": false, "zero": false}, "axis": {"offset": -32, "values": [0, 10, 20, 30, 40, 50, 60, 70, 80, 90], "title": "电炉开工率，%", "titleAngle": 0, "titleX": 6, "titleY": 7, "titleAlign": "left", "titleBaseline": "alphabetic"}},
       "color": {"field": "s", "type": "nominal", "scale": {"domain": ["2020", "2021", "2022", "2023", "2024"], "range": ["#1f3f98", "#bfbfbf", "#4a7cc4", "#000000", "#c00000"]},
        "legend": {"orient": "none", "legendX": 67, "legendY": -43.5, "direction": "horizontal", "columns": 3, "title": null, "symbolType": "M-6,0H0.8", "symbolSize": 100, "labelOffset": 4, "columnPadding": 34.5, "rowPadding": 4, "encode": {"symbols": {"update": {"strokeWidth": {"signal": "datum.value === '2022' ? 1.2 : (datum.value === '2023' ? 1.5 : 3)"}}}}}},
       "strokeDash": {"field": "s", "type": "nominal", "scale": {"domain": ["2020", "2021", "2022", "2023", "2024"], "range": [[1, 0], [1, 0], [2.5, 1.5], [7, 4], [1, 0]]},
        "legend": {"orient": "none", "legendX": 67, "legendY": -43.5, "direction": "horizontal", "columns": 3, "title": null, "symbolType": "M-6,0H0.8", "symbolSize": 100, "labelOffset": 4, "columnPadding": 34.5, "rowPadding": 4, "encode": {"symbols": {"update": {"strokeWidth": {"signal": "datum.value === '2022' ? 1.2 : (datum.value === '2023' ? 1.5 : 3)"}}}}}},
       "strokeWidth": {"condition": [{"test": "datum.s === '2022'", "value": 1.2}, {"test": "datum.s === '2023'", "value": 1.5}], "value": 3}
      }},
     {"width": 1, "height": 3.25, "data": {"values": []}, "mark": "point"},
     {"width": 336, "height": 1.5, "data": {"values": []}, "mark": "point", "view": {"fill": "#2f5597", "stroke": null},
      "title": {"text": "资料来源：Wind，国盛证券研究所", "orient": "bottom", "anchor": "start", "dx": 5, "offset": 1, "font": "Noto Sans CJK SC", "fontSize": 10.5, "fontStyle": "italic", "fontWeight": "normal", "color": "#2f5597"}}
    ], "spacing": 0, "resolve": {"scale": {"color": "independent", "strokeDash": "independent"}, "legend": {"color": "independent", "strokeDash": "independent"}}},
   {"vconcat": [
     {"width": 344, "height": 2, "data": {"values": []}, "mark": "point", "view": {"fill": "#2f5597", "stroke": null},
      "title": {"text": "图表7：聚酯开工率", "anchor": "start", "dx": 5, "offset": 4.75, "font": "Noto Sans CJK SC", "fontSize": 10.5, "fontStyle": "italic", "fontWeight": "normal", "color": "#2f5597"}},
     {"width": 1, "height": 13.5, "data": {"values": []}, "mark": "point"},
     {"width": 327, "height": 149, "data": {"name": "c7"}, "mark": {"type": "line"},
      "encoding": {
       "x": {"field": "m", "type": "quantitative", "scale": {"domain": [0, 12], "range": [36, 327], "nice": false, "zero": false}, "axis": {"values": [0, 2, 4, 6, 8, 10], "labelExpr": "['01-01','03-01','05-01','07-01','09-01','11-01'][round(datum.value/2)]", "title": null}},
       "y": {"field": "v", "type": "quantitative", "scale": {"domain": [60, 100], "nice": false, "zero": false}, "axis": {"offset": -36, "values": [60, 70, 80, 90, 100], "title": "聚酯开工率，%", "titleAngle": 0, "titleX": -2, "titleY": 6, "titleAlign": "left", "titleBaseline": "alphabetic"}},
       "color": {"field": "s", "type": "nominal", "scale": {"domain": ["2020", "2021", "2022", "2023", "2024"], "range": ["#1f3f98", "#bfbfbf", "#4a7cc4", "#000000", "#c00000"]},
        "legend": {"orient": "none", "legendX": 62, "legendY": -41.5, "direction": "horizontal", "columns": 3, "title": null, "symbolType": "M-6.2,0H1", "symbolSize": 100, "labelOffset": 3, "columnPadding": 34.5, "rowPadding": 4, "encode": {"symbols": {"update": {"strokeWidth": {"signal": "datum.value === '2022' ? 1.2 : (datum.value === '2023' ? 1.5 : 3)"}}}}}},
       "strokeDash": {"field": "s", "type": "nominal", "scale": {"domain": ["2020", "2021", "2022", "2023", "2024"], "range": [[1, 0], [1, 0], [2.5, 1.5], [7, 4], [1, 0]]},
        "legend": {"orient": "none", "legendX": 62, "legendY": -41.5, "direction": "horizontal", "columns": 3, "title": null, "symbolType": "M-6.2,0H1", "symbolSize": 100, "labelOffset": 3, "columnPadding": 34.5, "rowPadding": 4, "encode": {"symbols": {"update": {"strokeWidth": {"signal": "datum.value === '2022' ? 1.2 : (datum.value === '2023' ? 1.5 : 3)"}}}}}},
       "strokeWidth": {"condition": [{"test": "datum.s === '2022'", "value": 1.2}, {"test": "datum.s === '2023'", "value": 1.5}], "value": 3}
      }},
     {"width": 1, "height": 4.25, "data": {"values": []}, "mark": "point"},
     {"width": 344, "height": 1.5, "data": {"values": []}, "mark": "point", "view": {"fill": "#2f5597", "stroke": null},
      "title": {"text": "资料来源：Wind，国盛证券研究所", "orient": "bottom", "anchor": "start", "dx": 5, "offset": 1, "font": "Noto Sans CJK SC", "fontSize": 10.5, "fontStyle": "italic", "fontWeight": "normal", "color": "#2f5597"}}
    ], "spacing": 0, "resolve": {"scale": {"color": "independent", "strokeDash": "independent"}, "legend": {"color": "independent", "strokeDash": "independent"}}}
  ], "spacing": 31, "resolve": {"scale": {"color": "independent", "strokeDash": "independent"}, "legend": {"color": "independent", "strokeDash": "independent"}}},
 {"width": 1, "height": 212, "data": {"values": []}, "mark": "point"},
 {"hconcat": [
   {"width": 274, "height": 1.5, "data": {"values": []}, "mark": "point", "view": {"fill": "#2f5597", "stroke": null},
    "title": {"text": "P.7", "orient": "bottom", "anchor": "start", "dx": 16, "offset": 3.25, "font": "Liberation Sans", "fontSize": 13, "fontWeight": "bold", "fontStyle": "italic", "color": "#2f5597"}},
   {"width": 438, "height": 1.5, "data": {"values": []}, "mark": "point", "view": {"fill": "#2f5597", "stroke": null},
    "title": {"text": "请仔细阅读本报告末页声明", "orient": "bottom", "anchor": "start", "dx": 0, "offset": 3.25, "font": "Noto Sans CJK SC", "fontSize": 13, "fontWeight": "bold", "fontStyle": "italic", "color": "#2f5597"}}
  ], "spacing": 0}
]
}
